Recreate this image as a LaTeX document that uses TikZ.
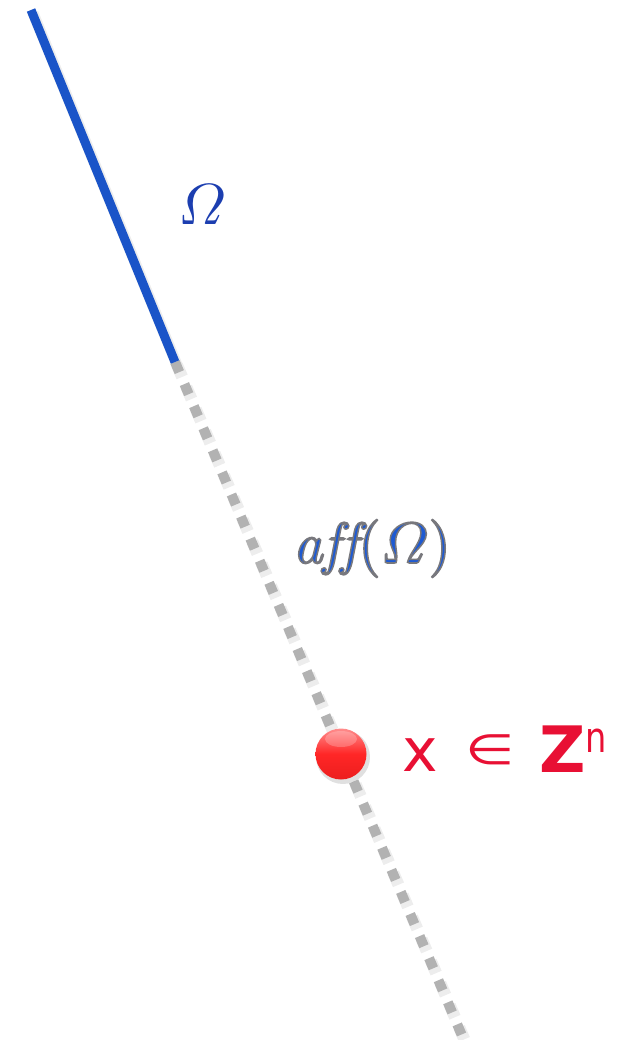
\documentclass[tikz,border=0pt]{standalone}
\usepackage{amsmath}
\usepackage{fontspec}
\usepackage{graphicx}
\newfontfamily\djv{DejaVu Sans}
\definecolor{lineblue}{RGB}{26,84,200}
\definecolor{omblue}{RGB}{28,62,176}
\definecolor{affblue}{RGB}{30,90,210}
\definecolor{dotgray}{RGB}{178,178,178}
\definecolor{txtred}{RGB}{232,16,52}
\definecolor{balltop}{RGB}{255,140,140}
\definecolor{ballbot}{RGB}{236,30,30}
\tikzset{
  solidpart/.style={draw=lineblue, line width=9pt},
  dotpart/.style={draw=dotgray, line width=10pt, dash pattern=on 11pt off 13pt},
  shadowpart/.style={draw=black, opacity=0.07, line width=12pt, dash pattern=on 13pt off 11pt},
  redtxt/.style={text=txtred, inner sep=0pt, font=\djv},
}
\newcommand{\afftext}{\special{pdf:literal direct 2 Tr 0.26 w 0.47 0.47 0.49 RG}\scalebox{5.8}{$\mathit{aff(}\varOmega\mathit{)}$}\special{pdf:literal direct 0 Tr}}
\begin{document}
\begin{tikzpicture}[x=1pt,y=-1pt]
\useasboundingbox (0,0) rectangle (621,1040);
\clip (0,0) rectangle (621,1040);
\coordinate (top) at (31,10);
\coordinate (mid) at (175,362);
\coordinate (bot) at (466,1045);
\coordinate (affpos) at (372,563);
% shadows
\draw[shadowpart] ([shift={(2,3)}]mid) -- ([shift={(2,3)}]bot);
\draw[draw=black, opacity=0.07, line width=11pt] ([shift={(2,3)}]top) -- ([shift={(2,3)}]mid);
% lines
\draw[dotpart] (mid) -- (bot);
\draw[solidpart] (top) -- (mid);
% labels
\node[text=omblue, inner sep=0pt] (omega) at (202,205) {\scalebox{5.8}{$\varOmega$}};
\node[anchor=base, text=affblue, inner sep=0pt] (afflabel) at (affpos) {\afftext};
% ball
\fill[black, opacity=0.12] (343,757) circle (27);
\shade[top color=balltop, bottom color=ballbot, middle color=red!85!white] (341,754) circle (25.5);
\fill[white, opacity=0.22] (341,739) ellipse (16 and 8);
\node[draw=none, minimum size=51pt, circle, inner sep=0pt] (ball) at (341,754) {};
% x in Z^n
\node[redtxt, anchor=base, font=\djv\fontsize{60}{62}\selectfont] (xx) at (420,771) {x};
\node[redtxt, anchor=base, xscale=1.35, font=\djv\fontsize{42}{44}\selectfont] (in) at (490,764) {∈};
\node[redtxt, anchor=base, font=\djv\bfseries\fontsize{64}{66}\selectfont] (zz) at (563,772) {Z};
\node[redtxt, anchor=base, xscale=0.8, font=\djv\fontsize{42}{44}\selectfont] (nn) at (596,752) {n};
\end{tikzpicture}
\end{document}
